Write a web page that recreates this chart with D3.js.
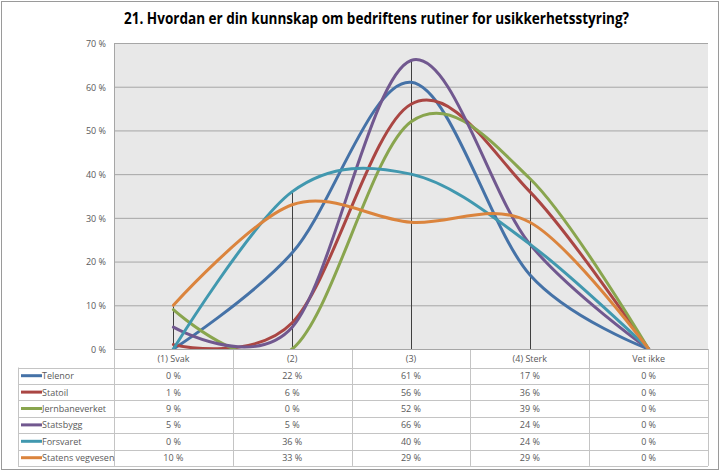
<!DOCTYPE html>
<html>
<head>
<meta charset="utf-8">
<script src="https://cdn.jsdelivr.net/npm/d3@7"></script>
<style>
  body { margin: 0; background: #fff; }
  text { font-family: "Open Sans", "Liberation Sans", sans-serif; }
</style>
</head>
<body>
<div id="chart"></div>
<script>
var title = '21. Hvordan er din kunnskap om bedriftens rutiner for usikkerhetsstyring?';
var categories = ['(1) Svak', '(2)', '(3)', '(4) Sterk', 'Vet ikke'];
var seriesNames = ['Telenor', 'Statoil', 'Jernbaneverket', 'Statsbygg', 'Forsvaret', 'Statens vegvesen'];
var seriesColors = ['#4572a7', '#aa4643', '#89a54e', '#71588f', '#4198af', '#db843d'];
var telenor = [0, 22, 61, 17, 0];
var statoil = [1, 6, 56, 36, 0];
var jernbaneverket = [9, 0, 52, 39, 0];
var statsbygg = [5, 5, 66, 24, 0];
var forsvaret = [0, 36, 40, 24, 0];
var vegvesen = [10, 33, 29, 29, 0];
var yTicks = [0, 10, 20, 30, 40, 50, 60, 70];

var values = [telenor, statoil, jernbaneverket, statsbygg, forsvaret, vegvesen];

var W = 721, H = 472;
var plotLeft = 114, plotRight = 708, plotTop = 43, plotBottom = 349;
var rowH = 16.4, headerH = 18.5, tableLeft = 18;

var svg = d3.select('#chart').append('svg')
    .attr('width', W)
    .attr('height', H);

// outer border
svg.append('rect')
    .attr('x', 1.5).attr('y', 1.5)
    .attr('width', W - 4).attr('height', H - 4)
    .attr('fill', '#fff')
    .attr('stroke', '#9a9a9a')
    .attr('stroke-width', 1);

svg.append('text')
    .attr('x', W / 2 + 16)
    .attr('y', 24)
    .attr('text-anchor', 'middle')
    .attr('font-size', 16)
    .attr('font-weight', 'bold')
    .attr('textLength', 505)
    .attr('lengthAdjust', 'spacingAndGlyphs')
    .attr('fill', '#000')
    .text(title);

var x = d3.scaleBand()
    .domain(categories)
    .range([plotLeft, plotRight]);

var y = d3.scaleLinear()
    .domain([0, 70])
    .range([plotBottom, plotTop]);

svg.append('rect')
    .attr('x', plotLeft).attr('y', plotTop)
    .attr('width', plotRight - plotLeft).attr('height', plotBottom - plotTop)
    .attr('fill', '#e8e8e8');

// gridlines
svg.append('g')
    .selectAll('line')
    .data(yTicks)
    .enter().append('line')
    .attr('x1', plotLeft)
    .attr('x2', plotRight)
    .attr('y1', function(d) { return y(d) + 0.5; })
    .attr('y2', function(d) { return y(d) + 0.5; })
    .attr('stroke', '#a6a6a6')
    .attr('stroke-width', 1);

// y axis
var yAxis = d3.axisLeft(y)
    .tickValues(yTicks)
    .tickSize(0)
    .tickPadding(8)
    .tickFormat(function(d) { return d + ' %'; });

var yg = svg.append('g')
    .attr('transform', 'translate(' + plotLeft + ',0.5)')
    .call(yAxis);
yg.select('.domain').attr('stroke', '#a6a6a6');
yg.selectAll('text')
    .attr('font-size', 9)
    .attr('fill', '#595959')
    .style('font-family', '"Open Sans", sans-serif');

// drop lines
svg.append('g')
    .selectAll('line')
    .data(categories)
    .enter().append('line')
    .attr('x1', function(d) { return Math.round(x(d) + x.bandwidth() / 2) + 0.5; })
    .attr('x2', function(d) { return Math.round(x(d) + x.bandwidth() / 2) + 0.5; })
    .attr('y1', function(d, i) {
        return y(d3.max(values, function(v) { return v[i]; }));
    })
    .attr('y2', plotBottom)
    .attr('stroke', '#404040')
    .attr('stroke-width', 1);

// lines
var line = d3.line()
    .x(function(d, i) { return x(categories[i]) + x.bandwidth() / 2; })
    .y(function(d) { return y(d); })
    .curve(d3.curveCardinal.tension(0));

svg.append('clipPath').attr('id', 'clip')
    .append('rect')
    .attr('x', plotLeft).attr('y', plotTop - 10)
    .attr('width', plotRight - plotLeft).attr('height', plotBottom - plotTop + 10);

svg.append('g')
    .attr('clip-path', 'url(#clip)')
    .selectAll('path')
    .data(values)
    .enter().append('path')
    .attr('d', line)
    .attr('fill', 'none')
    .attr('stroke', function(d, i) { return seriesColors[i]; })
    .attr('stroke-width', 3)
    .attr('stroke-linecap', 'round');

// data table
var table = svg.append('g');
var tableBottom = plotBottom + headerH + rowH * seriesNames.length;
var gridColor = '#c4c4c4';

// header row
table.selectAll('.head')
    .data(categories)
    .enter().append('text')
    .attr('x', function(d) { return x(d) + x.bandwidth() / 2; })
    .attr('y', plotBottom + headerH / 2 + 3.5)
    .attr('text-anchor', 'middle')
    .attr('font-size', 9)
    .attr('fill', '#595959')
    .text(function(d) { return d; });

// horizontal rules
var rowTops = d3.range(seriesNames.length + 1).map(function(i) {
    return plotBottom + headerH + i * rowH;
});
table.selectAll('.hr')
    .data(rowTops)
    .enter().append('line')
    .attr('x1', tableLeft)
    .attr('x2', plotRight)
    .attr('y1', function(d) { return Math.round(d) + 0.5; })
    .attr('y2', function(d) { return Math.round(d) + 0.5; })
    .attr('stroke', gridColor);

// vertical rules
var colEdges = categories.map(function(c) { return x(c); }).concat([plotRight]);
table.selectAll('.vr')
    .data(colEdges)
    .enter().append('line')
    .attr('x1', function(d) { return Math.round(d) + 0.5; })
    .attr('x2', function(d) { return Math.round(d) + 0.5; })
    .attr('y1', plotBottom)
    .attr('y2', tableBottom)
    .attr('stroke', gridColor);
table.append('line')
    .attr('x1', tableLeft + 0.5).attr('x2', tableLeft + 0.5)
    .attr('y1', rowTops[0]).attr('y2', tableBottom)
    .attr('stroke', gridColor);

// axis line at bottom of plot
svg.append('line')
    .attr('x1', plotLeft).attr('x2', plotRight)
    .attr('y1', plotBottom + 0.5).attr('y2', plotBottom + 0.5)
    .attr('stroke', '#a6a6a6');

var rows = table.selectAll('.row')
    .data(seriesNames)
    .enter().append('g')
    .attr('transform', function(d, i) {
        return 'translate(0,' + (rowTops[i] + rowH / 2) + ')';
    });

rows.append('line')
    .attr('x1', tableLeft + 3)
    .attr('x2', tableLeft + 24)
    .attr('stroke', function(d, i) { return seriesColors[i]; })
    .attr('stroke-width', 3);

rows.append('text')
    .attr('x', tableLeft + 24)
    .attr('y', 3.5)
    .attr('font-size', 9)
    .attr('fill', '#595959')
    .text(function(d) { return d; });

rows.each(function(name, i) {
    d3.select(this).selectAll('.val')
        .data(values[i])
        .enter().append('text')
        .attr('x', function(d, j) { return x(categories[j]) + x.bandwidth() / 2; })
        .attr('y', 3.5)
        .attr('text-anchor', 'middle')
        .attr('font-size', 9)
        .attr('fill', '#595959')
        .text(function(d) { return d + ' %'; });
});
</script>
</body>
</html>
